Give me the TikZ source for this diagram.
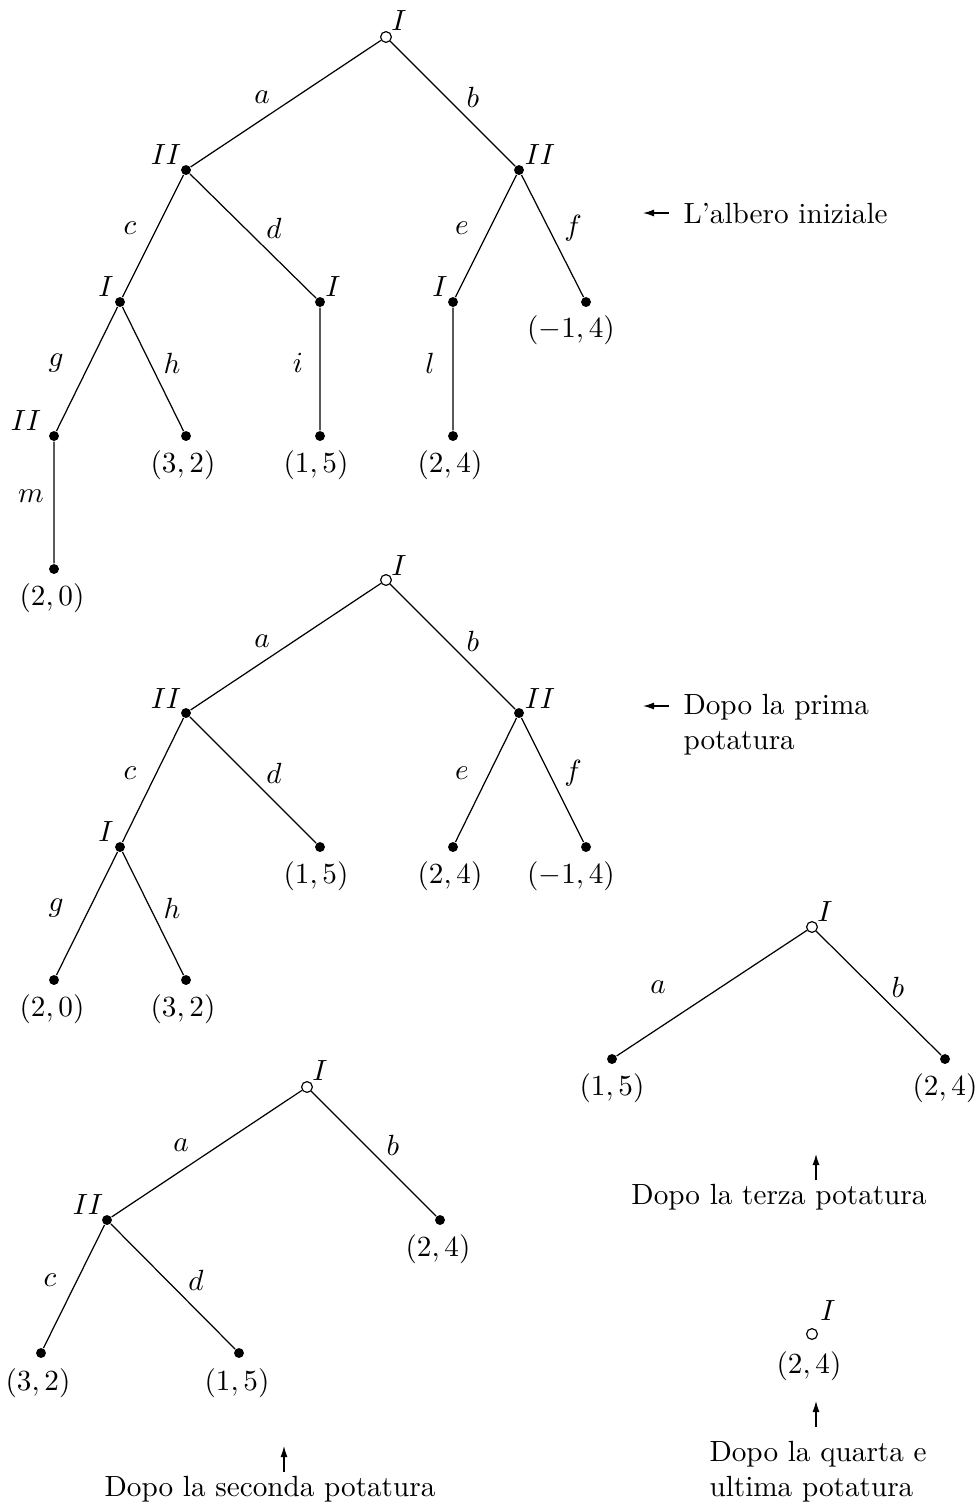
\documentclass[tikz,border=0pt]{standalone}
\usetikzlibrary{arrows.meta}
\begin{document}
\begin{tikzpicture}[x=0.3425pt,y=-0.3425pt,
  dot/.style={circle,fill=black,inner sep=0pt,minimum size=3.4pt},
  odot/.style={circle,draw=black,fill=white,line width=0.4pt,inner sep=0pt,minimum size=3.7pt},
  edge/.style={draw=black,line width=0.42pt},
  lbl/.style={inner sep=0pt,font=\itshape},
  pay/.style={inner sep=0pt},
  txt/.style={inner sep=0pt,align=left},
  arr/.style={-{Latex[length=3.8pt,width=2.4pt]},line width=0.42pt}]
\useasboundingbox (0,0) rectangle (975,1506);

% ---------- Tree 1 ----------
\node[odot] (r1) at (386,37) {};
\node[lbl] (r1l) at (399,21) {$I$};
\node[dot] (a1) at (186,170) {};
\node[lbl] (a1l) at (166,155) {$II$};
\node[dot] (b1) at (519,170) {};
\node[lbl] (b1l) at (540,155) {$II$};
\node[dot] (c1) at (120,302) {};
\node[lbl] (c1l) at (106,287) {$I$};
\node[dot] (d1) at (320,302) {};
\node[lbl] (d1l) at (333,287) {$I$};
\node[dot] (e1) at (453,302) {};
\node[lbl] (e1l) at (440,287) {$I$};
\node[dot] (f1) at (586,302) {};
\node[pay] (f1l) at (571,330) {$(-1,4)$};
\node[dot] (g1) at (54,436) {};
\node[lbl] (g1l) at (26,421) {$II$};
\node[dot] (h1) at (186,436) {};
\node[pay] (h1l) at (183,465) {$(3,2)$};
\node[dot] (i1) at (320,436) {};
\node[pay] (i1l) at (316,465) {$(1,5)$};
\node[dot] (l1) at (453,436) {};
\node[pay] (l1l) at (450,465) {$(2,4)$};
\node[dot] (m1) at (54,569) {};
\node[pay] (m1l) at (52,598) {$(2,0)$};
\draw[edge] (r1) -- (a1) (r1) -- (b1) (a1) -- (c1) (a1) -- (d1) (b1) -- (e1) (b1) -- (f1)
  (c1) -- (g1) (c1) -- (h1) (d1) -- (i1) (e1) -- (l1) (g1) -- (m1);
\node[lbl] at (262,97) {$a$};
\node[lbl] at (473,97) {$b$};
\node[lbl] at (130,228) {$c$};
\node[lbl] at (274,228) {$d$};
\node[lbl] at (462,228) {$e$};
\node[lbl] at (573,228) {$f$};
\node[lbl] at (56,363) {$g$};
\node[lbl] at (172,363) {$h$};
\node[lbl] at (298,363) {$i$};
\node[lbl] at (430,363) {$l$};
\node[lbl] at (31,496) {$m$};
\node[txt,anchor=west] (t1) at (683,214) {L'albero iniziale};
\coordinate (t1a) at (669,213);
\coordinate (t1b) at (643,213);
\draw[arr] (t1a) -- (t1b);

% ---------- Tree 2 ----------
\node[odot] (r2) at (386,580) {};
\node[lbl] (r2l) at (399,566) {$I$};
\node[dot] (a2) at (186,713) {};
\node[lbl] (a2l) at (166,699) {$II$};
\node[dot] (b2) at (519,713) {};
\node[lbl] (b2l) at (540,699) {$II$};
\node[dot] (c2) at (120,847) {};
\node[lbl] (c2l) at (106,832) {$I$};
\node[dot] (d2) at (320,847) {};
\node[pay] (d2l) at (316,876) {$(1,5)$};
\node[dot] (e2) at (453,847) {};
\node[pay] (e2l) at (450,876) {$(2,4)$};
\node[dot] (f2) at (586,847) {};
\node[pay] (f2l) at (571,876) {$(-1,4)$};
\node[dot] (g2) at (54,980) {};
\node[pay] (g2l) at (52,1009) {$(2,0)$};
\node[dot] (h2) at (186,980) {};
\node[pay] (h2l) at (183,1009) {$(3,2)$};
\draw[edge] (r2) -- (a2) (r2) -- (b2) (a2) -- (c2) (a2) -- (d2) (b2) -- (e2) (b2) -- (f2)
  (c2) -- (g2) (c2) -- (h2);
\node[lbl] at (262,641) {$a$};
\node[lbl] at (473,641) {$b$};
\node[lbl] at (130,773) {$c$};
\node[lbl] at (274,773) {$d$};
\node[lbl] at (462,773) {$e$};
\node[lbl] at (573,773) {$f$};
\node[lbl] at (56,908) {$g$};
\node[lbl] at (172,908) {$h$};
\node[txt,anchor=north west] (t2) at (683,694) {Dopo la prima\\potatura};
\coordinate (t2a) at (669,706);
\coordinate (t2b) at (643,706);
\draw[arr] (t2a) -- (t2b);

% ---------- Tree 3 (terza potatura) ----------
\node[odot] (r3) at (812,927) {};
\node[lbl] (r3l) at (825,912) {$I$};
\node[dot] (a3) at (612,1059) {};
\node[pay] (a3l) at (612,1088) {$(1,5)$};
\node[dot] (b3) at (945,1059) {};
\node[pay] (b3l) at (945,1088) {$(2,4)$};
\draw[edge] (r3) -- (a3) (r3) -- (b3);
\node[lbl] at (658,987) {$a$};
\node[lbl] at (898,987) {$b$};
\node[txt] (t3) at (779,1197) {Dopo la terza potatura};
\coordinate (t3a) at (816,1180);
\coordinate (t3b) at (816,1154);
\draw[arr] (t3a) -- (t3b);

% ---------- Tree 4 (seconda potatura) ----------
\node[odot] (r4) at (307,1087) {};
\node[lbl] (r4l) at (320,1071) {$I$};
\node[dot] (a4) at (107,1220) {};
\node[lbl] (a4l) at (88,1205) {$II$};
\node[dot] (b4) at (440,1220) {};
\node[pay] (b4l) at (438,1249) {$(2,4)$};
\node[dot] (c4) at (41,1353) {};
\node[pay] (c4l) at (38,1383) {$(3,2)$};
\node[dot] (d4) at (239,1353) {};
\node[pay] (d4l) at (237,1383) {$(1,5)$};
\draw[edge] (r4) -- (a4) (r4) -- (b4) (a4) -- (c4) (a4) -- (d4);
\node[lbl] at (181,1145) {$a$};
\node[lbl] at (393,1145) {$b$};
\node[lbl] at (50,1280) {$c$};
\node[lbl] at (196,1280) {$d$};
\node[txt] (t4) at (270,1489) {Dopo la seconda potatura};
\coordinate (t4a) at (284,1472);
\coordinate (t4b) at (284,1446);
\draw[arr] (t4a) -- (t4b);

% ---------- Tree 5 (quarta potatura) ----------
\node[odot] (r5) at (812,1334) {};
\node[lbl] (r5l) at (828,1311) {$I$};
\node[pay] (r5p) at (809,1366) {$(2,4)$};
\node[txt,anchor=west] (t5) at (709,1472) {Dopo la quarta e\\ultima potatura};
\coordinate (t5a) at (816,1427);
\coordinate (t5b) at (816,1401);
\draw[arr] (t5a) -- (t5b);
\end{tikzpicture}
\end{document}
